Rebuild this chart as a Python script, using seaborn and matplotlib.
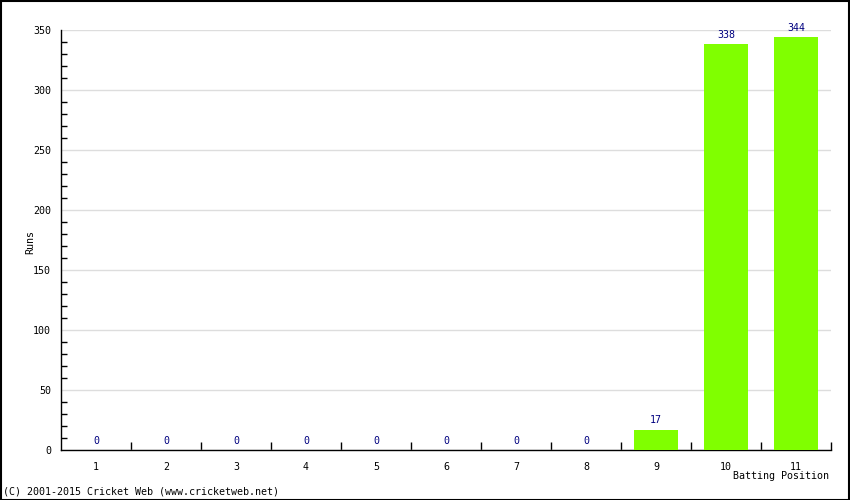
import matplotlib
matplotlib.use("Agg")
import matplotlib.pyplot as plt
import seaborn as sns
import pandas as pd
from matplotlib.ticker import MultipleLocator, FixedLocator

positions = ["1", "2", "3", "4", "5", "6", "7", "8", "9", "10", "11"]
runs = [0, 0, 0, 0, 0, 0, 0, 0, 17, 338, 344]

sns.set_style("white")
plt.rcParams['font.family'] = ['DejaVu Sans Mono', 'DejaVu Sans']
plt.rcParams['text.color'] = 'black'
plt.rcParams['xtick.color'] = 'black'
plt.rcParams['ytick.color'] = 'black'

FS = 7.2

df = pd.DataFrame({"pos": positions, "runs": runs})

fig = plt.figure(figsize=(8.5, 5), dpi=100)
ax = fig.add_axes([61/850, 50/500, 770/850, 420/500])
sns.barplot(data=df, x="pos", y="runs", color="#80ff00", saturation=1,
            width=0.63, ax=ax, zorder=3)
for p in ax.patches:
    p.set_edgecolor("none")

ax.set_xlim(-0.5, len(positions) - 0.5)
ax.set_ylim(0, 350)

# y axis
ax.yaxis.set_major_locator(MultipleLocator(50))
ax.yaxis.set_minor_locator(MultipleLocator(10))
ax.tick_params(axis="y", which="major", direction="in", length=6, width=1,
               color="black", labelcolor="black", labelsize=FS, pad=7)
ax.tick_params(axis="y", which="minor", direction="in", length=4, width=1,
               color="black", left=True)
ax.grid(axis="y", which="major", color="#dddddd", linewidth=1, zorder=0)
ax.set_axisbelow(True)

# x axis: ticks at boundaries, labels at centers
ax.xaxis.set_major_locator(FixedLocator([i + 0.5 for i in range(len(positions))]))
ax.xaxis.set_major_formatter(plt.NullFormatter())
ax.xaxis.set_minor_locator(FixedLocator(list(range(len(positions)))))
ax.set_xticks(range(len(positions)), positions, minor=True)
ax.tick_params(axis="x", which="major", direction="in", length=6, width=1,
               color="black", bottom=True)
ax.tick_params(axis="x", which="minor", length=0, labelsize=FS, pad=9,
               labelcolor="black")

for s in ["top", "right"]:
    ax.spines[s].set_visible(False)
for s in ["left", "bottom"]:
    ax.spines[s].set_color("black")
    ax.spines[s].set_linewidth(1)

ax.set_xlabel("")
ax.set_ylabel("")

# value labels
for i, v in enumerate(runs):
    ax.annotate(str(v), (i, v), xytext=(0, 3), textcoords="offset points",
                ha="center", va="bottom", fontsize=FS, color="#000080")

fig.text(829/850, 1 - 476/500, "Batting Position", ha="right", va="center",
         fontsize=FS, color="black")
fig.text(30/850, 1 - 242/500, "Runs", ha="center", va="center", rotation=90,
         fontsize=FS, color="black")
fig.text(3/850, 1 - 492/500, "(C) 2001-2015 Cricket Web (www.cricketweb.net)",
         ha="left", va="center", fontsize=FS, color="black")

# border
fig.patches.append(plt.Rectangle((0.0006, 0.001), 0.9988, 0.998, transform=fig.transFigure,
                                 fill=False, edgecolor="black", linewidth=1.5))

fig.savefig("out.png", dpi=100, facecolor="white")
